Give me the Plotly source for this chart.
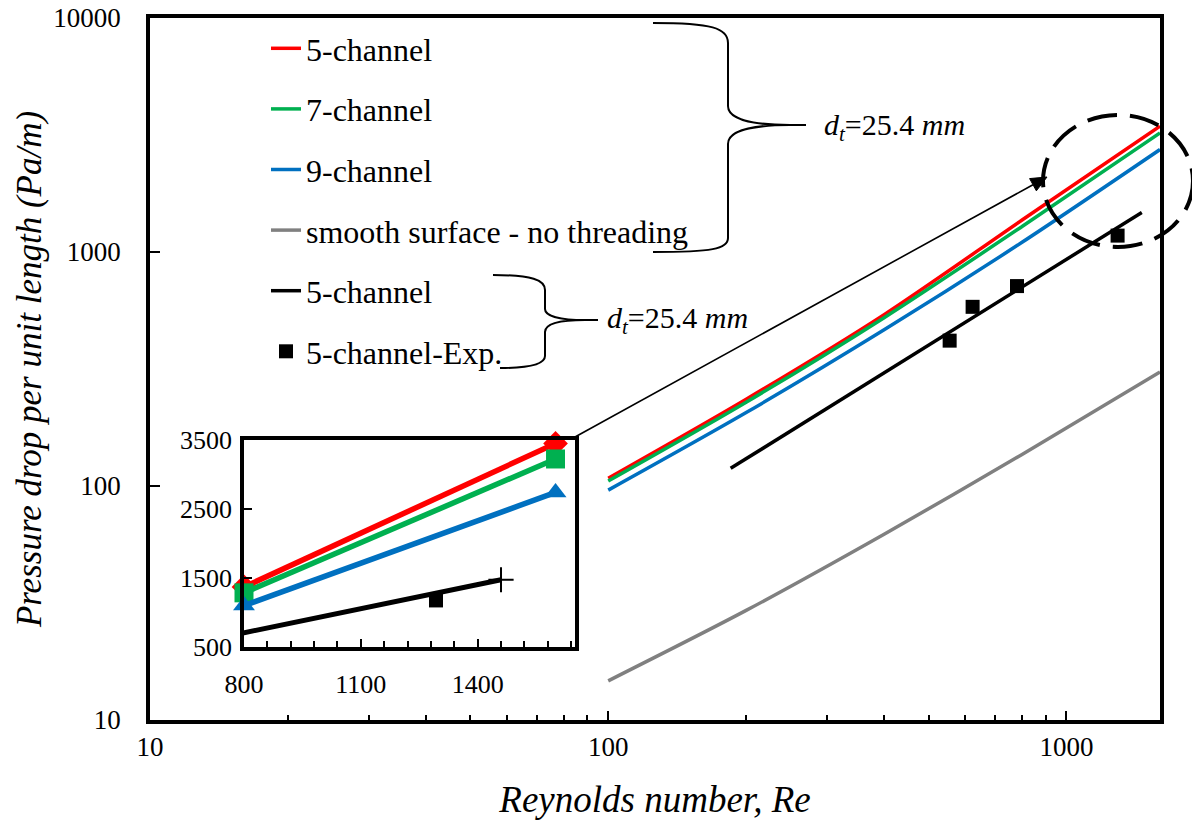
import math
import plotly.graph_objects as go

# ---------------- data ----------------
re_sim = [100, 200, 400, 800, 1600]
dp_5ch = [108, 235, 540, 1370, 3450]
dp_7ch = [105, 228, 524, 1285, 3225]
dp_9ch = [96, 206, 465, 1100, 2740]
dp_smooth = [14.7, 29.4, 62.2, 136.4, 307]
re_5ch_b = [185, 400, 800, 1460]
dp_5ch_b = [119, 305, 706, 1475]
re_exp = [556, 624, 780, 1293]
dp_exp = [418, 583, 715, 1175]

names = ["5-channel", "7-channel", "9-channel", "smooth surface - no threading",
         "5-channel", "5-channel-Exp."]
x_ticks_main = [10, 100, 1000]
y_ticks_main = [10, 100, 1000, 10000]
x_ticks_inset = [800, 1100, 1400]
y_ticks_inset = [500, 1500, 2500, 3500]

RED, GREEN, BLUE, GRAY, BLACK = "#FF0000", "#00B050", "#0070C0", "#808080", "#000000"
FONT = "Liberation Serif, Times New Roman, serif"

# screen geometry: the page body adds an 8px offset, so the figure is 8px smaller
OFF = 8
SL, SR, ST, SB = 150, 1160, 18, 720          # plot area in screen pixels
W, H = 1200 - OFF, 824 - OFF
PW, PH = SR - SL, SB - ST


def px(p):
    return (p - SL) / PW


def py(p):
    return (SB - p) / PH


fig = go.Figure()

# main traces
main_series = [(dp_5ch, RED, names[0]), (dp_7ch, GREEN, names[1]),
               (dp_9ch, BLUE, names[2]), (dp_smooth, GRAY, names[3])]
for i, (vals, col, nm) in enumerate(main_series):
    fig.add_trace(go.Scatter(x=re_sim, y=vals, mode="lines", name=nm,
                             line=dict(color=col, width=3.5, shape="spline", smoothing=0.8),
                             legendgroup=f"g{i}", xaxis="x", yaxis="y"))
fig.add_trace(go.Scatter(x=re_5ch_b, y=dp_5ch_b, mode="lines", name=names[4],
                         line=dict(color=BLACK, width=3.5), legendgroup="g4",
                         xaxis="x", yaxis="y"))
fig.add_trace(go.Scatter(x=re_exp, y=dp_exp, mode="markers", name=names[5],
                         marker=dict(symbol="square", size=14, color=BLACK),
                         legendgroup="g5", xaxis="x", yaxis="y"))

# inset traces (same data, zoomed)
inset_specs = [(dp_5ch, RED, "diamond"), (dp_7ch, GREEN, "square"), (dp_9ch, BLUE, "triangle-up")]
for vals, col, sym in inset_specs:
    fig.add_trace(go.Scatter(x=re_sim[3:], y=vals[3:], mode="lines+markers",
                             line=dict(color=col, width=5.5),
                             marker=dict(symbol=sym, size=19, color=col),
                             cliponaxis=False, showlegend=False,
                             xaxis="x2", yaxis="y2"))
fig.add_trace(go.Scatter(x=re_5ch_b, y=dp_5ch_b, mode="lines",
                         line=dict(color=BLACK, width=5),
                         showlegend=False, xaxis="x2", yaxis="y2"))
fig.add_trace(go.Scatter(x=re_5ch_b[-1:], y=dp_5ch_b[-1:], mode="markers",
                         marker=dict(symbol="cross-thin", size=18,
                                     line=dict(color=BLACK, width=2)),
                         cliponaxis=False, showlegend=False, xaxis="x2", yaxis="y2"))
fig.add_trace(go.Scatter(x=re_exp[-1:], y=dp_exp[-1:], mode="markers",
                         marker=dict(symbol="square", size=14, color=BLACK),
                         showlegend=False, xaxis="x2", yaxis="y2"))

axis_common = dict(showline=True, linecolor="black", linewidth=3.5, mirror=True,
                   showgrid=False, zeroline=False, ticks="inside", tickcolor="black",
                   automargin=False, ticklabeloverflow="allow")

minor_x = [v * d for d in (10, 100) for v in range(2, 10)]
tick_font = dict(family=FONT, size=27, color="black")
inset_font = dict(family=FONT, size=26, color="black")

fig.update_layout(
    width=W, height=H,
    margin=dict(l=SL - OFF, r=W - (SR - OFF), t=ST - OFF, b=H - (SB - OFF), autoexpand=False),
    paper_bgcolor="white", plot_bgcolor="white",
    font=dict(family=FONT, color="black"),
    xaxis=dict(type="log", range=[1, math.log10(1600)], tickvals=x_ticks_main,
               ticktext=[str(v) for v in x_ticks_main], ticklen=9, tickwidth=2,
               minor=dict(tickvals=minor_x, ticks="inside", ticklen=5, tickwidth=2,
                          tickcolor="black", showgrid=False),
               ticklabelstandoff=0, tickfont=tick_font,
               title=dict(text="<i>Reynolds number, Re</i>",
                          font=dict(family=FONT, size=37, color="black"), standoff=26),
               **axis_common),
    yaxis=dict(type="log", range=[1, 4], tickvals=y_ticks_main,
               ticktext=[str(v) for v in y_ticks_main], ticklen=10, tickwidth=2,
               ticklabelstandoff=20, tickfont=tick_font,
               title=dict(text="<i>Pressure drop per unit length (Pa/m)</i>",
                          font=dict(family=FONT, size=35, color="black"), standoff=2),
               **axis_common),
    xaxis2=dict(domain=[px(244), px(575)], anchor="y2", range=[800, 1650],
                tickvals=x_ticks_inset, ticklen=8, tickwidth=2,
                minor=dict(dtick=60, tick0=800, ticks="inside", ticklen=6, tickwidth=2,
                           tickcolor="black", showgrid=False),
                ticklabelstandoff=11, tickfont=inset_font, **axis_common),
    yaxis2=dict(domain=[py(647), py(440)], anchor="x2", range=[500, 3500],
                tickvals=y_ticks_inset, ticklen=8, tickwidth=2,
                ticklabelstandoff=3, tickfont=inset_font, **axis_common),
    showlegend=True,
    legend=dict(x=px(266), y=py(21), xanchor="left", yanchor="top",
                traceorder="grouped", tracegroupgap=16,
                font=dict(family=FONT, size=32, color="black"),
                bgcolor="rgba(0,0,0,0)", borderwidth=0),
)


def path_str(pts):
    out = []
    for tok in pts:
        if isinstance(tok, str):
            out.append(tok)
        else:
            out.append(f"{px(tok[0]):.5f},{py(tok[1]):.5f}")
    return " ".join(out)


big_brace = path_str(["M", (653, 23), "C", (712, 23), (728, 28), (728, 43),
                      "L", (728, 106), "C", (728, 119), (752, 125), (790, 125),
                      "L", (806, 125), "M", (790, 125), "C", (752, 125), (728, 131),
                      (728, 144), "L", (728, 238), "C", (728, 249), (712, 252), (653, 252)])
small_brace = path_str(["M", (493, 275), "C", (532, 275), (545, 280), (545, 290),
                        "L", (545, 309), "C", (545, 316), (560, 320), (585, 320),
                        "L", (598, 320), "M", (585, 320), "C", (560, 320), (545, 324),
                        (545, 332), "L", (545, 356), "C", (545, 364), (530, 368), (500, 368)])

fig.add_shape(type="path", path=big_brace, xref="paper", yref="paper",
              line=dict(color="black", width=2))
fig.add_shape(type="path", path=small_brace, xref="paper", yref="paper",
              line=dict(color="black", width=2))
fig.add_shape(type="circle", xref="paper", yref="paper",
              x0=px(1043), x1=px(1193), y0=py(247), y1=py(115),
              line=dict(color="black", width=4, dash="30px,13px"))

# arrow from inset corner to zoomed region (line + filled head)
tail = (575, 437)
tip = (1047, 177)
ang = math.atan2(tip[1] - tail[1], tip[0] - tail[0])
hl, hw = 16, 7
base = (tip[0] - hl * math.cos(ang), tip[1] - hl * math.sin(ang))
p1 = (base[0] + hw * math.sin(ang), base[1] - hw * math.cos(ang))
p2 = (base[0] - hw * math.sin(ang), base[1] + hw * math.cos(ang))
fig.add_shape(type="line", xref="paper", yref="paper",
              x0=px(tail[0]), y0=py(tail[1]), x1=px(base[0]), y1=py(base[1]),
              line=dict(color="black", width=1.6))
fig.add_shape(type="path", xref="paper", yref="paper",
              path=path_str(["M", tip, "L", p1, "L", p2, "Z"]),
              fillcolor="black", line=dict(color="black", width=1))

dt_text = "<i>d</i><sub><i>t</i></sub>=25.4 <i>mm</i>"
fig.add_annotation(x=px(822), y=py(127), xref="paper", yref="paper", text=dt_text,
                   showarrow=False, xanchor="left", yanchor="middle",
                   font=dict(family=FONT, size=30, color="black"))
fig.add_annotation(x=px(605), y=py(320), xref="paper", yref="paper", text=dt_text,
                   showarrow=False, xanchor="left", yanchor="middle",
                   font=dict(family=FONT, size=30, color="black"))

fig.write_html("out.html")
